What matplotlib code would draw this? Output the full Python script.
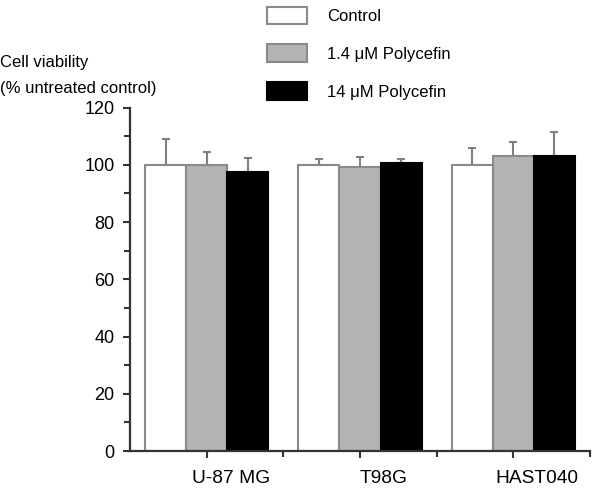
import matplotlib
matplotlib.use("Agg")
import matplotlib.pyplot as plt
import matplotlib.transforms as mtransforms
import numpy as np
from matplotlib.patches import Patch

plt.rcParams['font.family'] = ['Liberation Sans', 'DejaVu Sans']

cell_lines = ["U-87 MG", "T98G", "HAST040"]
series_names = ["Control", "1.4 \u03bcM Polycefin", "14 \u03bcM Polycefin"]
control = [100, 100, 100]
control_err = [9, 2, 6]
low_dose = [100, 99.3, 103]
low_dose_err = [4.5, 3.5, 5]
high_dose = [97.5, 100.5, 103]
high_dose_err = [5, 1.5, 8.5]
y_ticks = [0, 20, 40, 60, 80, 100, 120]

values = [control, low_dose, high_dose]
errors = [control_err, low_dose_err, high_dose_err]
fills = ["white", "#b3b3b3", "black"]
edges = ["#8a8a8a", "#8a8a8a", "black"]

fig = plt.figure(figsize=(6, 4.9), dpi=100)
ax = fig.add_axes([130/600, 1-451/490, 460/600, (451-107.5)/490])

x = np.arange(len(cell_lines))
w = 0.268
for i, (vals, errs) in enumerate(zip(values, errors)):
    pos = x + (i - 1) * w
    ax.bar(pos, vals, width=w, color=fills[i], edgecolor=edges[i], linewidth=1.5, zorder=2)
    ax.errorbar(pos, vals, yerr=[np.zeros(len(errs)), errs], fmt='none',
                ecolor="#808080", elinewidth=1.5, capsize=3, capthick=1.5, zorder=1)

ax.set_xlim(-0.5, 2.5)
ax.set_ylim(0, 120)
ax.set_yticks(y_ticks)
ax.set_yticks(np.arange(10, 120, 20), minor=True)
ax.set_xticks(x)
ax.set_xticklabels(cell_lines, fontsize=13.8)
ax.set_xticks([0.5, 1.5, 2.5], minor=True)
for s in ["top", "right"]:
    ax.spines[s].set_visible(False)
for s in ["left", "bottom"]:
    ax.spines[s].set_color("#333333")
    ax.spines[s].set_linewidth(1.6)
ax.tick_params(axis='y', which='major', length=5, width=1.5, color="#333333",
               labelsize=13, pad=6)
ax.tick_params(axis='x', which='major', length=5, width=1.5, color="#333333", pad=9)
ax.tick_params(axis='both', which='minor', length=4, width=1.5, color="#333333")

offset = mtransforms.ScaledTranslation(0.24, 0, fig.dpi_scale_trans)
for lab in ax.get_xticklabels():
    lab.set_transform(lab.get_transform() + offset)

fig.text(0.0, 1-63/490, "Cell viability", fontsize=12, va='center', ha='left')
fig.text(0.0, 1-88/490, "(% untreated control)", fontsize=12, va='center', ha='left')

handles = [Patch(facecolor=f, edgecolor=e, linewidth=1.5) for f, e in zip(fills, edges)]
fig.legend(handles, series_names, loc='upper left', bbox_to_anchor=(260/600, 1.0),
           frameon=False, fontsize=12, handlelength=2.4, handleheight=1.26,
           labelspacing=1.2, handletextpad=1.2, borderaxespad=0.0)

fig.savefig("out.png", dpi=100)
